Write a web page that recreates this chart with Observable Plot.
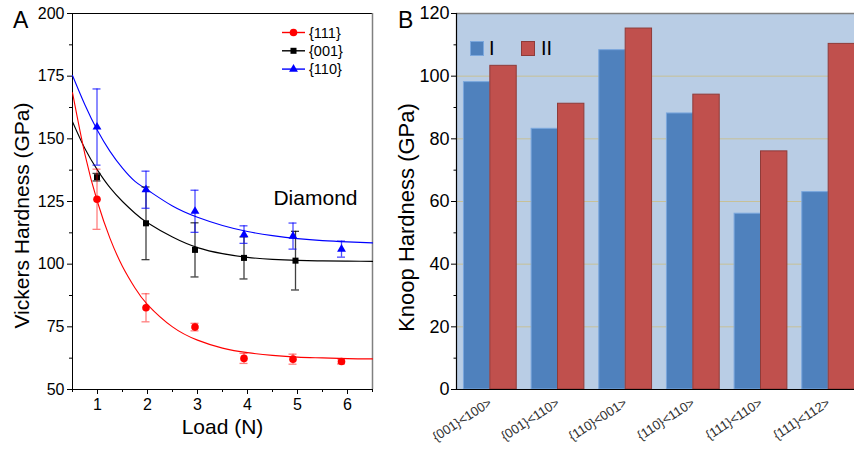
<!DOCTYPE html>
<html><head><meta charset="utf-8">
<script src="https://cdn.jsdelivr.net/npm/d3@7"></script>
<script src="https://cdn.jsdelivr.net/npm/@observablehq/plot@0.6"></script>
<style>
html,body{margin:0;padding:0;background:#fff;}
#wrap{position:relative;width:854px;height:450px;overflow:hidden;font-family:"Liberation Sans",Arial,sans-serif;color:#000;}
#wrap svg{position:absolute;top:0;}
.panel{position:absolute;font-size:23px;line-height:1;}
.legA{position:absolute;left:281px;top:23px;}
.legB{position:absolute;font-size:20px;line-height:1;}
</style></head><body><div id="wrap"></div>
<script>
// ---------- Panel A data (Vickers hardness vs load) ----------
const seriesA = ["{111}", "{001}", "{110}"];
const loads111 = [0.99, 1.97, 2.95, 3.93, 4.91, 5.88];
const hv111    = [125.9, 82.6, 74.9, 62.4, 62.1, 61.2];
const err111   = [12, 5.6, 1.5, 2, 2, 1];
const loads001 = [0.99, 1.97, 2.95, 3.93, 4.96];
const hv001    = [134.7, 116.3, 105.7, 102.5, 101.4];
const err001   = [1.5, 14.5, 10.8, 8.4, 11.7];
const loads110 = [0.99, 1.97, 2.95, 3.93, 4.91, 5.88];
const hv110    = [154.7, 129.7, 121.1, 111.8, 111.2, 106];
const err110   = [15.2, 7.4, 8.4, 3.5, 5.2, 3.2];
// fitted curves
const fitLoad = [0.5, 0.75, 1, 1.25, 1.5, 1.75, 2, 2.5, 3, 3.5, 4, 4.5, 5, 5.5, 6, 6.5];
const fit111  = [168.4, 143.7, 124.8, 110.3, 99.1, 90.5, 83.9, 75.0, 69.7, 66.5, 64.7, 63.6, 62.9, 62.6, 62.3, 62.2];
const fit001  = [156.8, 146, 137.5, 130.5, 125, 120.3, 116.5, 110.8, 106.6, 104.2, 102.7, 101.9, 101.5, 101.3, 101.2, 101.1];
const fit110  = [175.3, 163.5, 153.3, 145, 138.3, 133, 129.6, 123.2, 118.7, 115.4, 113, 111.4, 110.2, 109.4, 108.9, 108.5];
const xDomA = [0.5, 6.5];
const yDomA = [50, 200];
const xTicksA = [1, 2, 3, 4, 5, 6];
const xMinorA = [0.5, 1.5, 2.5, 3.5, 4.5, 5.5, 6.5];
const yTicksA = [50, 75, 100, 125, 150, 175, 200];
const yMinorA = [62.5, 87.5, 112.5, 137.5, 162.5, 187.5];

// ---------- Panel B data (Knoop hardness) ----------
const orientations = ["{001}<100>", "{001}<110>", "{110}<001>", "{110}<110>", "{111}<110>", "{111}<112>"];
const knoopI  = [98.1, 83.2, 108.3, 88.1, 56.1, 63.0];
const knoopII = [103.3, 91.2, 115.2, 94.1, 76.0, 110.3];
const seriesB = ["I", "II"];
const yDomB = [0, 120];
const yTicksB = [0, 20, 40, 60, 80, 100, 120];
const yMinorB = [10, 30, 50, 70, 90, 110];
const gridB = [20, 40, 60, 80, 100];

// ---------- styles ----------
const font = '"Liberation Sans", Arial, sans-serif';
const colA = {"{111}": "#ff0000", "{001}": "#000000", "{110}": "#0000ff"};
const errOp = {"{111}": 0.5, "{001}": 0.75, "{110}": 0.7};
const symA = {"{111}": "circle", "{001}": "square", "{110}": "triangle"};
const rA = {"{111}": 3.8, "{001}": 3.4, "{110}": 3.3};
const colB = {"I": "#4f81bd", "II": "#c0504d"};
const edgeB = {"I": "#7aa7dd", "II": "#8e3b39"};

const ptsBy = {
  "{111}": loads111.map((x, i) => ({x, y: hv111[i], e: err111[i]})),
  "{001}": loads001.map((x, i) => ({x, y: hv001[i], e: err001[i]})),
  "{110}": loads110.map((x, i) => ({x, y: hv110[i], e: err110[i]}))
};
const fitBy = {
  "{111}": fitLoad.map((x, i) => ({x, y: fit111[i]})),
  "{001}": fitLoad.map((x, i) => ({x, y: fit001[i]})),
  "{110}": fitLoad.map((x, i) => ({x, y: fit110[i]}))
};
const capHalf = 0.08;

const marksA = [
  Plot.axisX({ticks: xTicksA, tickSize: 5, tickPadding: 4, tickFormat: d3.format("d"), label: null}),
  Plot.axisX({ticks: xMinorA, tickSize: 3, tickFormat: () => "", label: null}),
  Plot.axisY({ticks: yTicksA, tickSize: 5, tickPadding: 3, tickFormat: d3.format("d"), label: null}),
  Plot.axisY({ticks: yMinorA, tickSize: 3, tickFormat: () => "", label: null}),
  Plot.ruleY([yDomA[1]], {stroke: "#000"}),
  Plot.ruleX([xDomA[1]], {stroke: "#808080", strokeWidth: 1.5}),
  Plot.ruleX([xDomA[0]], {stroke: "#000"}),
  Plot.ruleY([yDomA[0]], {stroke: "#000"})
];
for (const s of ["{001}", "{110}", "{111}"]) {
  marksA.push(Plot.line(fitBy[s], {x: "x", y: "y", stroke: colA[s], strokeWidth: 1.1, curve: "natural"}));
}
for (const s of ["{001}", "{110}", "{111}"]) {
  const p = ptsBy[s];
  marksA.push(
    Plot.ruleX(p, {x: "x", y1: d => d.y - d.e, y2: d => d.y + d.e, stroke: colA[s], strokeOpacity: errOp[s], strokeWidth: 1.3}),
    Plot.ruleY(p, {y: d => d.y + d.e, x1: d => d.x - capHalf, x2: d => d.x + capHalf, stroke: colA[s], strokeOpacity: errOp[s], strokeWidth: 1.3}),
    Plot.ruleY(p, {y: d => d.y - d.e, x1: d => d.x - capHalf, x2: d => d.x + capHalf, stroke: colA[s], strokeOpacity: errOp[s], strokeWidth: 1.3}),
    Plot.dot(p, {x: "x", y: "y", symbol: symA[s], r: rA[s], fill: colA[s], stroke: "none"})
  );
}
marksA.push(
  Plot.text(["Vickers Hardness (GPa)"], {text: d => d, frameAnchor: "left", textAnchor: "middle", rotate: -90, dx: -50, dy: 14, fontSize: 21}),
  Plot.text(["Load (N)"], {text: d => d, frameAnchor: "bottom", dy: 44, fontSize: 21}),
  Plot.text(["Diamond"], {text: d => d, frameAnchor: "right", textAnchor: "end", dx: -15, dy: -3, fontSize: 21})
);

const plotA = Plot.plot({
  width: 380, height: 450,
  marginLeft: 72, marginRight: 8, marginTop: 13, marginBottom: 61,
  style: {fontFamily: font, fontSize: "16px", color: "#000", background: "transparent", overflow: "visible"},
  x: {domain: xDomA},
  y: {domain: yDomA},
  marks: marksA
});
plotA.style.left = "0px";

// ---------- Panel B ----------
const halfGroup = 0.39;
const barsB = [];
orientations.forEach((o, i) => {
  barsB.push({i, s: "I", v: knoopI[i], x1: i - halfGroup, x2: i});
  barsB.push({i, s: "II", v: knoopII[i], x1: i, x2: i + halfGroup});
});
const plotB = Plot.plot({
  width: 482, height: 450,
  marginLeft: 76, marginRight: 0, marginTop: 13, marginBottom: 61,
  style: {fontFamily: font, fontSize: "18px", color: "#000", background: "transparent", overflow: "visible"},
  x: {domain: [-0.5, orientations.length - 0.5]},
  y: {domain: yDomB},
  marks: [
    Plot.frame({fill: "#b9cde5", stroke: null}),
    Plot.gridY(gridB, {stroke: "#c9bf8e", strokeOpacity: 0.9, strokeWidth: 1}),
    Plot.rect(barsB, {x1: "x1", x2: "x2", y1: 0, y2: "v", fill: d => colB[d.s], stroke: d => edgeB[d.s], strokeWidth: 1}),
    Plot.axisX({ticks: orientations.map((_, i) => i), tickFormat: i => orientations[i], tickRotate: -33, tickSize: 0, tickPadding: 12, fontSize: 13, fill: "#333", label: null}),
    Plot.axisY({ticks: yTicksB, tickSize: 5, tickPadding: 2, tickFormat: d3.format("d"), label: null}),
    Plot.axisY({ticks: yMinorB, tickSize: 2.5, tickFormat: () => "", label: null}),
    Plot.ruleY([yDomB[1]], {stroke: "#7f7f7f", strokeWidth: 1.6}),
    Plot.ruleY([yDomB[0]], {stroke: "#000", strokeWidth: 1.2}),
    Plot.ruleX([-0.5], {stroke: "#000", strokeWidth: 1.2}),
    Plot.text(["Knoop Hardness (GPa)"], {text: d => d, frameAnchor: "left", textAnchor: "middle", rotate: -90, dx: -50, dy: 16, fontSize: 22})
  ]
});
plotB.style.left = "380px";

const wrap = document.getElementById("wrap");
wrap.appendChild(plotA);
wrap.appendChild(plotB);

// panel letters
for (const [t, l] of [["A", 13], ["B", 398]]) {
  const d = document.createElement("div");
  d.className = "panel"; d.textContent = t;
  d.style.left = l + "px"; d.style.top = "9px";
  wrap.appendChild(d);
}

// legend A
const legA = document.createElement("div");
legA.className = "legA";
const sA = d3.select(legA).append("svg").attr("width", 80).attr("height", 60).style("position", "static");
seriesA.forEach((s, k) => {
  const y = 9.5 + k * 18.3;
  sA.append("line").attr("x1", 1).attr("x2", 24).attr("y1", y).attr("y2", y).attr("stroke", colA[s]).attr("stroke-width", 1.4);
  const sym = {circle: d3.symbolCircle, square: d3.symbolSquare, triangle: d3.symbolTriangle}[symA[s]];
  sA.append("path").attr("d", d3.symbol(sym, Math.PI * rA[s] * rA[s])()).attr("transform", `translate(12.5,${y})`).attr("fill", colA[s]);
  sA.append("text").attr("x", 28).attr("y", y).attr("dy", "0.35em").attr("font-size", 14.5).attr("font-family", font).text(s);
});
wrap.appendChild(legA);

// legend B
seriesB.forEach((s, k) => {
  const sw = document.createElement("div");
  sw.style.cssText = `position:absolute;left:${470 + k * 51}px;top:41px;width:12px;height:13px;background:${colB[s]};border:1px solid ${edgeB[s]};`;
  wrap.appendChild(sw);
  const t = document.createElement("div");
  t.className = "legB"; t.textContent = s;
  t.style.left = (489 + k * 52) + "px"; t.style.top = "38px";
  wrap.appendChild(t);
});
</script></body></html>
